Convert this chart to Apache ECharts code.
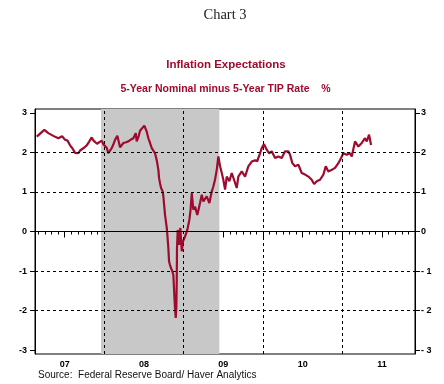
<!DOCTYPE html>
<html>
<head>
<meta charset="utf-8">
<script src="https://cdn.jsdelivr.net/npm/echarts@6/dist/echarts.min.js"></script>
<style>
html,body{margin:0;padding:0;background:#fff;}
#c{width:444px;height:384px;}
</style>
</head>
<body>
<div id="c"></div>
<script>
// ---- data (decimal years, percent) ----
const dateYears = [
2007.148,2007.244,2007.294,2007.357,2007.420,2007.467,2007.505,2007.536,2007.568,2007.599,
2007.631,2007.672,2007.694,2007.715,2007.744,2007.778,2007.807,2007.841,2007.864,2007.883,
2007.908,2007.924,2007.967,2007.990,2008.009,2008.030,2008.050,2008.072,2008.093,2008.113,
2008.135,2008.164,2008.176,2008.198,2008.217,2008.240,2008.274,2008.303,2008.330,2008.366,
2008.396,2008.408,2008.431,2008.450,2008.475,2008.504,2008.534,2008.555,2008.576,2008.598,
2008.618,2008.639,2008.661,2008.681,2008.690,2008.702,2008.715,2008.736,2008.744,2008.755,
2008.765,2008.787,2008.797,2008.807,2008.816,2008.828,2008.841,2008.856,2008.870,2008.882,
2008.891,2008.900,2008.908,2008.913,2008.916,2008.925,2008.942,2008.958,2008.976,2008.992,
2009.017,2009.046,2009.072,2009.087,2009.102,2009.122,2009.143,2009.172,2009.206,2009.228,
2009.248,2009.291,2009.324,2009.354,2009.374,2009.395,2009.417,2009.437,2009.459,2009.480,
2009.500,2009.522,2009.543,2009.576,2009.606,2009.635,2009.669,2009.689,2009.732,2009.774,
2009.815,2009.858,2009.900,2009.929,2009.941,2009.963,2009.984,2010.013,2010.047,2010.076,
2010.110,2010.152,2010.193,2010.236,2010.278,2010.319,2010.341,2010.370,2010.404,2010.446,
2010.488,2010.530,2010.572,2010.614,2010.644,2010.678,2010.719,2010.761,2010.791,2010.824,
2010.867,2010.908,2010.950,2010.984,2011.013,2011.056,2011.097,2011.119,2011.160,2011.202,
2011.245,2011.286,2011.308,2011.337,2011.362
];
const values = [
2.40,2.57,2.49,2.42,2.36,2.41,2.32,2.30,2.18,2.10,
1.99,1.98,2.05,2.10,2.12,2.18,2.27,2.38,2.30,2.26,
2.22,2.18,2.30,2.20,2.22,2.12,1.98,2.02,2.11,2.20,
2.32,2.42,2.40,2.13,2.18,2.24,2.26,2.28,2.32,2.36,
2.49,2.28,2.40,2.55,2.58,2.68,2.53,2.36,2.24,2.11,
2.07,1.98,1.80,1.56,1.35,1.22,1.10,1.01,0.89,0.65,
0.42,0.09,-0.15,-0.42,-0.76,-0.85,-0.93,-1.00,-1.10,-1.60,
-1.95,-2.19,-1.90,-1.20,-0.42,0.04,-0.34,0.09,-0.50,-0.25,
-0.13,0.04,0.30,0.55,0.97,0.55,0.63,0.42,0.72,0.93,
0.76,0.89,0.72,1.01,1.14,1.31,1.56,1.90,1.65,1.48,
1.31,1.06,1.39,1.27,1.48,1.31,1.10,1.39,1.52,1.39,
1.65,1.77,1.80,1.78,1.86,1.98,2.11,2.21,2.07,1.98,
2.03,1.86,1.90,1.86,2.03,2.03,1.94,1.73,1.65,1.69,
1.48,1.44,1.39,1.31,1.20,1.27,1.31,1.44,1.65,1.52,
1.56,1.61,1.73,1.86,1.98,1.94,1.98,1.90,2.28,2.15,
2.24,2.36,2.28,2.45,2.19
];
const yearLabels = ['07','08','09','10','11'];
const yearStarts = [2007,2008,2009,2010,2011];
const yTicks = [-3,-2,-1,0,1,2,3];
const yGridDashed = [-2,-1,1,2];
const recession = [2007.958, 2009.450];
const xRange = [2007.126, 2011.916];
const yRange = [-3.1, 3.1];

// ---- derived tick positions ----
const monthTicks = [];
for (let y = 2007; y <= 2011; y++) for (let m = 0; m < 12; m++) {
  const v = y + m / 12;
  if (v > xRange[0] && v < xRange[1]) monthTicks.push(v);
}
const halfTicks = [];
for (let y = 2007; y <= 2011; y++) for (const h of [0, 0.5]) {
  const v = y + h;
  if (v > xRange[0] && v < xRange[1]) halfTicks.push(v);
}
const labelPos = yearStarts.map(y => y + 0.5);

const RED = '#9E0B2E';
const lblFont = {fontFamily: 'Liberation Sans, Arial, sans-serif', fontWeight: 'bold', fontSize: 9, color: '#000'};

const chart = echarts.init(document.getElementById('c'), null, {renderer: 'canvas'});
chart.setOption({
  animation: false,
  backgroundColor: '#fff',
  grid: {left: 35, right: 29, top: 109, bottom: 30, show: true, borderColor: '#000', borderWidth: 1, containLabel: false},
  graphic: [
    {type: 'text', x: 225, y: 15, style: {text: 'Chart 3', textAlign: 'center', textVerticalAlign: 'middle', font: '14.5px "Liberation Serif", "Times New Roman", serif', fill: '#222'}},
    {type: 'text', x: 226, y: 65, style: {text: 'Inflation Expectations', textAlign: 'center', textVerticalAlign: 'middle', font: 'bold 11.5px "Liberation Sans", Arial, sans-serif', fill: RED}},
    {type: 'text', x: 225.5, y: 89, style: {text: '5-Year Nominal minus 5-Year TIP Rate    %', textAlign: 'center', textVerticalAlign: 'middle', font: 'bold 10.5px "Liberation Sans", Arial, sans-serif', fill: RED}},
    {type: 'text', x: 38, y: 375, style: {text: 'Source:  Federal Reserve Board/ Haver Analytics', textAlign: 'left', textVerticalAlign: 'middle', font: '10px "Liberation Sans", Arial, sans-serif', fill: '#111'}}
  ],
  xAxis: [
    {type: 'value', min: xRange[0], max: xRange[1], position: 'bottom',
     axisLine: {show: true, lineStyle: {color: '#000', width: 1}},
     axisTick: {show: true, inside: false, length: 3, customValues: monthTicks, lineStyle: {color: '#000'}},
     axisLabel: {show: true, customValues: labelPos, margin: 6, formatter: v => yearLabels[yearStarts.indexOf(Math.round(v - 0.5))] || '', ...lblFont},
     splitLine: {show: false}},
    {type: 'value', min: xRange[0], max: xRange[1], position: 'bottom',
     axisLine: {show: false},
     axisTick: {show: true, inside: false, length: 6, customValues: halfTicks, lineStyle: {color: '#000'}},
     axisLabel: {show: false}, splitLine: {show: false}}
  ],
  yAxis: [
    {type: 'value', min: yRange[0], max: yRange[1], position: 'left',
     axisLine: {show: true, lineStyle: {color: '#000'}},
     axisTick: {show: true, inside: false, length: 5, customValues: yTicks, lineStyle: {color: '#000'}},
     axisLabel: {show: true, customValues: yTicks, margin: 8, ...lblFont},
     splitLine: {show: false}},
    {type: 'value', min: yRange[0], max: yRange[1], position: 'right',
     axisLine: {show: true, lineStyle: {color: '#000'}},
     axisTick: {show: true, inside: false, length: 5, customValues: yTicks, lineStyle: {color: '#000'}},
     axisLabel: {show: true, customValues: yTicks, margin: 6, formatter: v => (v < 0 ? '- ' + Math.abs(v) : String(v)), ...lblFont},
     splitLine: {show: false}}
  ],
  series: [{
    type: 'line',
    xAxisIndex: 0, yAxisIndex: 0,
    data: dateYears.map((d, i) => [d, values[i]]),
    showSymbol: false, symbol: 'none',
    lineStyle: {color: RED, width: 2.2},
    silent: true,
    markArea: {silent: true, itemStyle: {color: '#C8C8C8'}, data: [[{xAxis: recession[0]}, {xAxis: recession[1]}]]},
    markLine: {
      silent: true, symbol: 'none', label: {show: false},
      data: [
        ...yGridDashed.map(v => ({yAxis: v, lineStyle: {type: [3, 3], color: '#000', width: 1}})),
        {yAxis: 0, lineStyle: {type: 'solid', color: '#000', width: 1}},
        ...yearStarts.filter(y => y > xRange[0]).map(y => ({xAxis: y, lineStyle: {type: [3, 3], color: '#000', width: 1}}))
      ]
    }
  }]
});
</script>
</body>
</html>
